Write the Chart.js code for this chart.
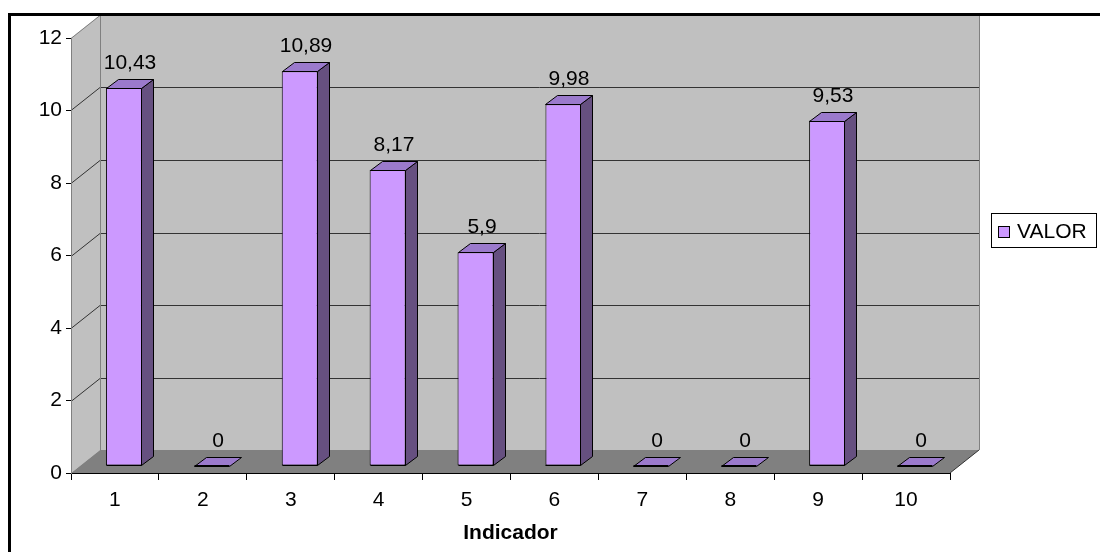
<!DOCTYPE html>
<html>
<head>
<meta charset="utf-8">
<script src="https://cdn.jsdelivr.net/npm/chart.js@4.4.0/dist/chart.umd.min.js"></script>
<style>
  html, body { margin: 0; padding: 0; background: #ffffff; }
  canvas { display: block; }
</style>
</head>
<body>
<canvas id="chart" width="1100" height="552"></canvas>
<script>
// Data
const categories = ['1', '2', '3', '4', '5', '6', '7', '8', '9', '10'];
const valor = [10.43, 0, 10.89, 8.17, 5.9, 9.98, 0, 0, 9.53, 0];
const seriesName = 'VALOR';
const axisTitle = 'Indicador';
const yMin = 0, yMax = 12, yStep = 2;

// Look
const FONT = '"Liberation Sans", Arial, sans-serif';
const WALL = { dx: 29, dy: -23 };       // depth of the back wall
const BAR_SHIFT = { dx: 9, dy: -7 };    // bars stand a little behind the front edge
const BAR_DEPTH = { dx: 12, dy: -9 };   // depth of each column
const C = {
  front: '#cc99ff', side: '#665080', top: '#9b7acc',
  wall: '#c0c0c0', floor: '#808080', edge: '#808080', grid: '#333333'
};

function fmt(v) { return String(v).replace('.', ','); }

function poly(ctx, pts, fill, stroke) {
  ctx.beginPath();
  ctx.moveTo(pts[0][0], pts[0][1]);
  for (let i = 1; i < pts.length; i++) ctx.lineTo(pts[i][0], pts[i][1]);
  ctx.closePath();
  if (fill) { ctx.fillStyle = fill; ctx.fill(); }
  if (stroke) { ctx.strokeStyle = stroke; ctx.lineWidth = 1; ctx.stroke(); }
}

function line(ctx, x1, y1, x2, y2, color) {
  ctx.beginPath();
  ctx.moveTo(x1, y1);
  ctx.lineTo(x2, y2);
  ctx.strokeStyle = color;
  ctx.lineWidth = 1;
  ctx.stroke();
}

// Walls, floor and gridlines of the 3D box
const box3d = {
  id: 'box3d',
  beforeDraw(chart) {
    const ctx = chart.ctx;
    const { left: L, right: R, top: T, bottom: B } = chart.chartArea;
    const ys = chart.scales.y;
    const dx = WALL.dx, dy = WALL.dy;
    ctx.save();
    ctx.fillStyle = '#ffffff';
    ctx.fillRect(0, 0, chart.width, chart.height);
    poly(ctx, [[L + dx, T + dy], [R + dx, T + dy], [R + dx, B + dy], [L + dx, B + dy]], C.wall);
    poly(ctx, [[L, T], [L + dx, T + dy], [L + dx, B + dy], [L, B]], C.wall);
    poly(ctx, [[L, B], [L + dx, B + dy], [R + dx, B + dy], [R, B]], C.floor);
    for (let v = yMin + yStep; v <= yMax; v += yStep) {
      const y = Math.round(ys.getPixelForValue(v)) + 0.5;
      const col = v === yMax ? C.edge : C.grid;
      line(ctx, L, y, L + dx, y + dy, col);
      if (v < yMax) line(ctx, L + dx, y + dy, R + dx, y + dy, col);
    }
    line(ctx, L + dx + 0.5, T + dy, L + dx + 0.5, B + dy, C.edge);
    line(ctx, R + dx + 0.5, T + dy, R + dx + 0.5, B + dy, C.edge);
    line(ctx, R, B, R + dx, B + dy, '#333333');
    ctx.restore();
  },
  beforeDatasetsDraw(chart) {
    chart.ctx.save();
    chart.ctx.translate(BAR_SHIFT.dx, BAR_SHIFT.dy);
  },
  afterDatasetsDraw(chart) {
    const ctx = chart.ctx;
    const meta = chart.getDatasetMeta(0);
    const data = chart.data.datasets[0].data;
    const ddx = BAR_DEPTH.dx, ddy = BAR_DEPTH.dy;
    meta.data.forEach((bar, i) => {
      const x0 = Math.round(bar.x - bar.width / 2) + 0.5;
      const x1 = Math.round(bar.x + bar.width / 2) - 0.5;
      const yt = Math.round(bar.y) + 0.5;
      const yb = Math.round(bar.base) - 0.5;
      if (yb > yt) {
        poly(ctx, [[x1, yb], [x1, yt], [x1 + ddx, yt + ddy], [x1 + ddx, yb + ddy]], C.side, '#000000');
      }
      poly(ctx, [[x0, yt], [x1, yt], [x1 + ddx, yt + ddy], [x0 + ddx, yt + ddy]], C.top, '#000000');
      line(ctx, x0, yb, x1, yb, '#000000');
      ctx.fillStyle = '#000000';
      ctx.font = '21px ' + FONT;
      ctx.textAlign = 'center';
      ctx.textBaseline = 'alphabetic';
      ctx.fillText(fmt(data[i]), (x0 + x1) / 2 + ddx / 2, yt + ddy - 11);
    });
    ctx.restore();
  },
  afterDraw(chart) {
    const ctx = chart.ctx;
    ctx.save();
    // legend
    ctx.fillStyle = '#ffffff';
    ctx.fillRect(991, 213, 105, 34);
    ctx.strokeStyle = '#000000';
    ctx.lineWidth = 1;
    ctx.strokeRect(991.5, 213.5, 105, 34);
    ctx.fillStyle = C.front;
    ctx.fillRect(998, 226, 12, 12);
    ctx.strokeRect(998.5, 226.5, 11, 11);
    ctx.fillStyle = '#000000';
    ctx.font = '21px ' + FONT;
    ctx.textAlign = 'left';
    ctx.textBaseline = 'middle';
    ctx.fillText(chart.data.datasets[0].label, 1017, 232);
    // frame
    ctx.lineWidth = 3;
    ctx.strokeRect(9.5, 14.5, 1300, 800);
    ctx.restore();
  }
};

new Chart(document.getElementById('chart'), {
  type: 'bar',
  data: {
    labels: categories,
    datasets: [{
      label: seriesName,
      data: valor,
      backgroundColor: C.front,
      borderColor: '#000000',
      borderWidth: 1,
      borderSkipped: false,
      barPercentage: 0.41,
      categoryPercentage: 1
    }]
  },
  options: {
    responsive: false,
    animation: false,
    devicePixelRatio: 1,
    layout: { padding: { left: 0, top: 38, right: 150, bottom: 0 } },
    plugins: { legend: { display: false }, tooltip: { enabled: false } },
    scales: {
      x: {
        offset: true,
        grid: { display: true, offset: true, drawOnChartArea: false, drawTicks: true, tickLength: 7, color: '#000000' },
        border: { display: true, color: '#000000', width: 1 },
        ticks: { color: '#000000', font: { family: FONT, size: 21 }, padding: 8, maxRotation: 0, autoSkip: false },
        title: { display: true, text: axisTitle, color: '#000000', font: { family: FONT, size: 21, weight: 'bold' }, padding: { top: 0, bottom: 6 } },
        afterFit(s) { s.height = 79; }
      },
      y: {
        min: yMin, max: yMax,
        grid: { display: true, drawOnChartArea: false, drawTicks: true, tickLength: 5, color: '#000000' },
        border: { display: true, color: C.edge, width: 1 },
        ticks: { stepSize: yStep, color: '#000000', font: { family: FONT, size: 21 }, padding: 4 },
        afterFit(s) { s.width = 71; }
      }
    }
  },
  plugins: [box3d]
});
</script>
</body>
</html>
